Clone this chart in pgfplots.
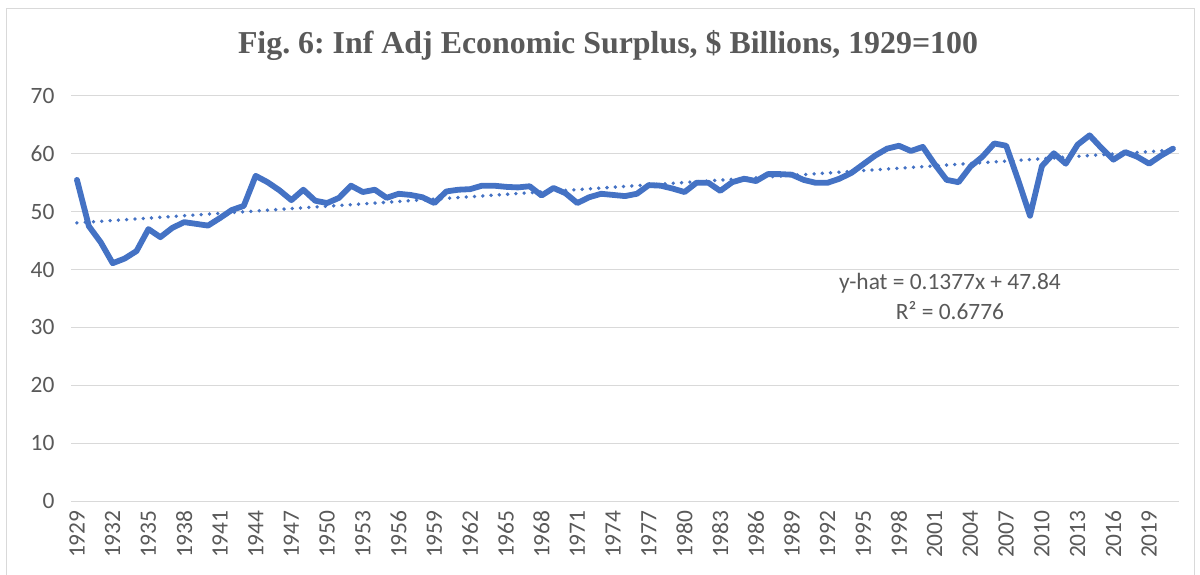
\documentclass[border=0pt]{standalone}
\usepackage{fontspec}
\setmainfont{Carlito}
\newfontfamily\titlefont{Liberation Serif}
\usepackage{pgfplots}
\pgfplotsset{compat=1.18}
\usepackage{pgfplotstable}
\frenchspacing

\definecolor{serie}{HTML}{4472C4}
\definecolor{txt}{HTML}{595959}
\definecolor{gridc}{HTML}{D9D9D9}

% inflation adjusted economic surplus, 1929=100
\pgfplotstableread{
year v
1929 55.5
1930 47.5
1931 44.7
1932 41.1
1933 41.9
1934 43.2
1935 47.0
1936 45.6
1937 47.2
1938 48.2
1939 47.9
1940 47.6
1941 48.9
1942 50.3
1943 51.0
1944 56.2
1945 55.1
1946 53.7
1947 52.0
1948 53.8
1949 51.9
1950 51.5
1951 52.4
1952 54.5
1953 53.4
1954 53.8
1955 52.4
1956 53.1
1957 52.9
1958 52.5
1959 51.5
1960 53.5
1961 53.8
1962 53.9
1963 54.5
1964 54.5
1965 54.3
1966 54.2
1967 54.4
1968 52.8
1969 54.1
1970 53.2
1971 51.5
1972 52.5
1973 53.1
1974 52.9
1975 52.7
1976 53.1
1977 54.6
1978 54.5
1979 54.0
1980 53.4
1981 55.0
1982 55.0
1983 53.6
1984 55.1
1985 55.7
1986 55.3
1987 56.5
1988 56.5
1989 56.4
1990 55.5
1991 55.0
1992 55.0
1993 55.7
1994 56.7
1995 58.2
1996 59.7
1997 60.9
1998 61.4
1999 60.5
2000 61.2
2001 58.2
2002 55.5
2003 55.1
2004 57.8
2005 59.5
2006 61.8
2007 61.4
2008 55.5
2009 49.3
2010 57.9
2011 60.1
2012 58.3
2013 61.6
2014 63.2
2015 61.0
2016 59.0
2017 60.3
2018 59.5
2019 58.3
2020 59.7
2021 60.9
}\surplus

\newcommand\tickfont{\fontsize{23.5}{28}\selectfont}

\begin{document}
\begin{tikzpicture}
\path[use as bounding box] (0bp,0bp) rectangle (1200bp,575bp);
% chart area border
\draw[gridc, line width=1bp] (6bp,-10bp) -- (6bp,566bp) -- (1194bp,566bp) -- (1194bp,-10bp);

\node[txt, font=\titlefont\bfseries\fontsize{32}{38}\selectfont] at (608bp,530bp)
  {Fig. 6: Inf Adj Economic Surplus, \$ Billions, 1929=100};

\begin{axis}[
    at={(71bp,74bp)}, anchor=south west,
    width=1108bp, height=405bp, scale only axis,
    xmin=1928.5, xmax=2021.5,
    ymin=0, ymax=70,
    ytick={0,10,...,70},
    xtick={1929,1932,...,2019},
    axis line style={draw=none},
    tick style={draw=none},
    ymajorgrids,
    grid style={gridc, line width=1bp},
    ticklabel style={txt, font=\tickfont},
    /pgf/number format/.cd, 1000 sep={}, assume math mode=true,
    /pgfplots/.cd,
    yticklabel style={xshift=-13bp},
    xticklabel style={rotate=90, anchor=east, xshift=-6bp},
  ]
  \addplot[serie, line width=5.8bp, line join=round, line cap=round] table[x=year, y=v] {\surplus};
  \addplot[serie, line width=3.8bp, line cap=round, dash pattern=on 0bp off 8.3bp]
    table[x=year, y={create col/linear regression={y=v}}] {\surplus};
\end{axis}

\node[txt, font=\tickfont] at (950bp,292bp) {y-hat = 0.1377x + 47.84};
\node[txt, font=\tickfont] at (950bp,264bp) {R² = 0.6776};
\end{tikzpicture}
\end{document}
